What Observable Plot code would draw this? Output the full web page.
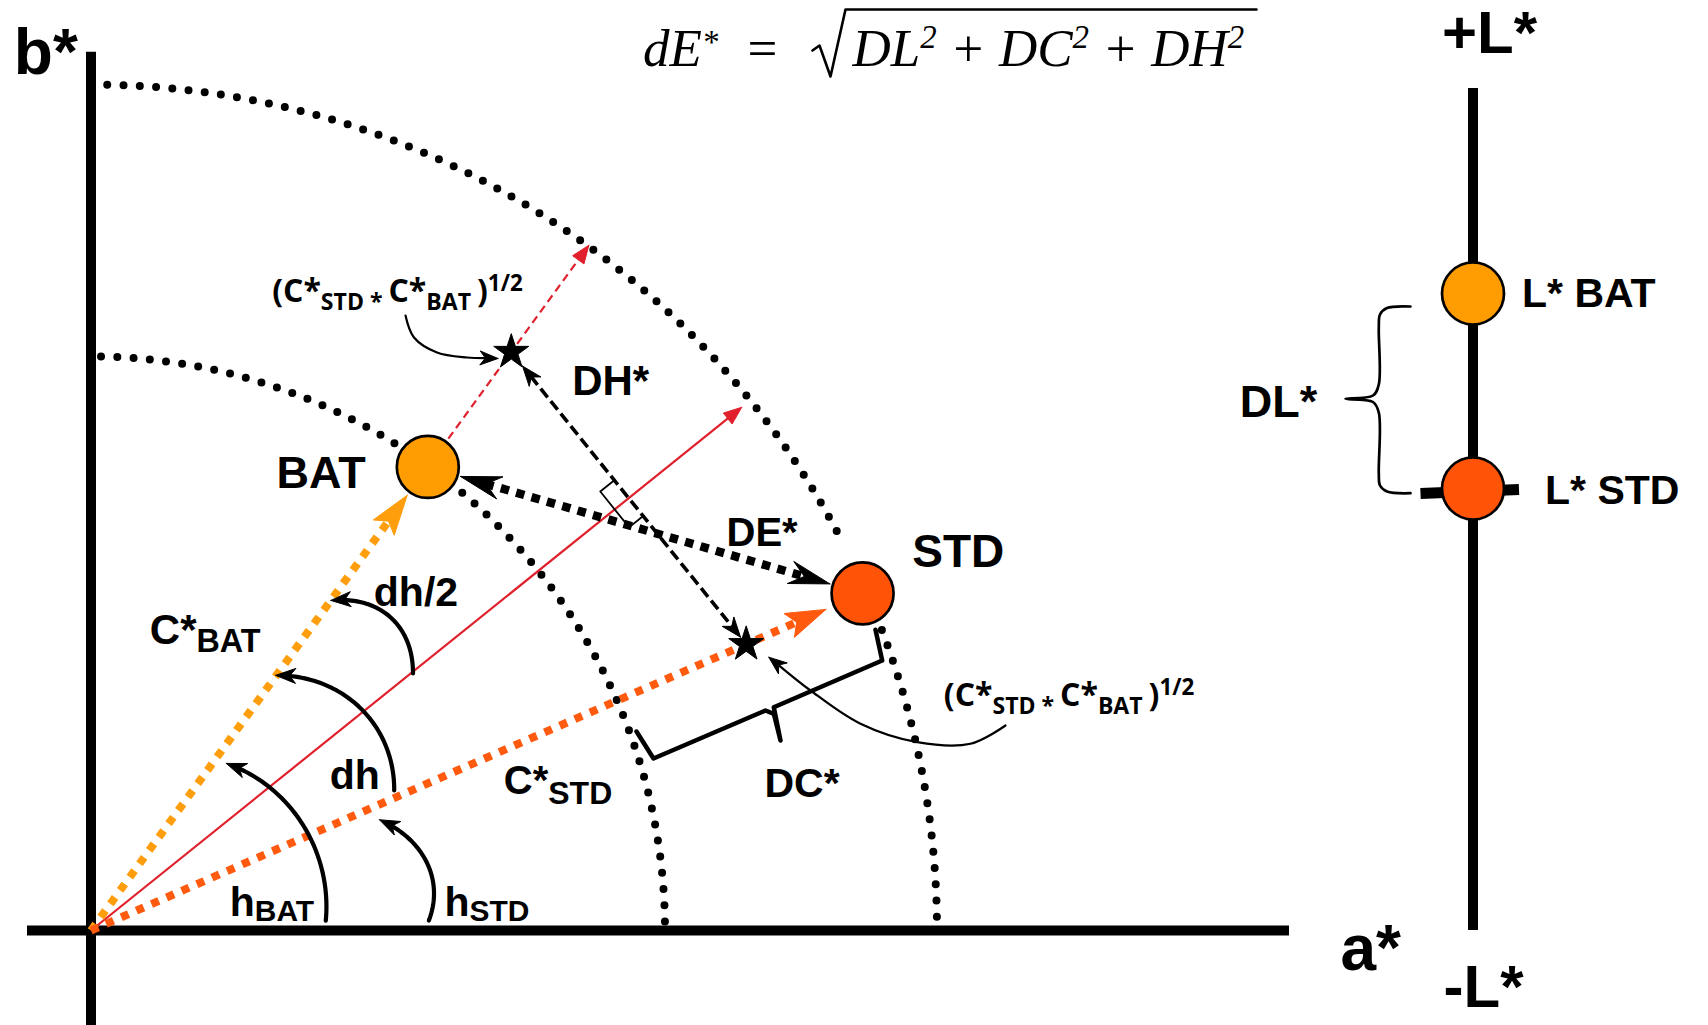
<!DOCTYPE html>
<html><head><meta charset="utf-8">
<script src="https://cdn.jsdelivr.net/npm/d3@7"></script>
<script src="https://cdn.jsdelivr.net/npm/@observablehq/plot@0.6"></script>
<style>html,body{margin:0;padding:0;background:#fff;} #chart svg{display:block}</style>
</head><body><div id="chart"></div>
<script>
// ================= DATA =================
const samples = ["BAT", "STD"];
const chroma = [57.3, 84.2];          // C*
const hue = [54.0, 23.6];             // h (degrees)
const lightness = [63.7, 44.2];       // position on the L* axis
const sampleColors = ["#FF9C00", "#FF5308"];
const vectorColors = ["#FF9E0D", "#FF5A0E"];
const vectorInsets = [3.5, 4.0];      // gap between chroma vector tip and sample dot
const chromaRings = [57.4, 84.6];     // dotted chroma circles
const ringArcs = [[[89.0, 57.3], [49.7, 0.7]], [[88.9, 27.3], [20.8, 0.7]]]; // angle spans
const geoMeanChroma = 71.5;           // (C*STD * C*BAT)^1/2 star radius
const bisectorLength = 83.5;
const batRayEnd = 84.7;
const lAxisU = 138.2;

// angle arrows: control points [angle, radius]
const angleArcs = [
  {id: "hBAT", ctrl: [[2.4, 23.5], [26, 23.7], [51, 21.5]]},
  {id: "hSTD", ctrl: [[1.7, 33.8], [11.2, 34.3], [21, 30.9]]},
  {id: "dh",   ctrl: [[24.8, 33.4], [38.3, 35.0], [54.1, 31.5]]},
  {id: "dh2",  ctrl: [[38.6, 41.2], [45, 43.3], [54.0, 40.8]]}
];
// curved pointer arrows (a*, b*)
const pointers = [
  {id: "p1", pts: [[31.45, 61.5], [32.3, 59.3], [34.6, 57.8], [37.6, 57.3], [40.7, 57.2]]},
  {id: "p2", pts: [[91.45, 20.5], [87.95, 18.67], [82.62, 18.83], [76.95, 20.67], [71.95, 24.0], [67.78, 27.33]]}
];
const dcBrace = [[54.55, 19.9], [56.25, 17.2], [67.45, 22.0], [68.28, 21.67], [68.95, 19.0], [68.28, 22.33], [79.12, 27.0], [78.45, 30.07]];
const dlBrace = [[131.95, 62.4], [129.6, 62.25], [128.9, 61.6], [128.78, 60.3], [128.78, 54.6], [128.2, 53.5], [125.45, 53.17], [128.2, 52.85], [128.78, 51.8], [128.78, 45.7], [128.9, 44.5], [129.6, 43.9], [131.95, 43.73]];
const radical = [[72.15, 88.0], [72.85, 88.5], [73.95, 85.4], [75.45, 92.1], [116.55, 92.1]];

const SANS = "Liberation Sans, Arial, sans-serif";
const CALI = "'Open Sans', Lato, sans-serif";
const SERIF = "Liberation Serif, 'DejaVu Serif', serif";
const labels = [
  {t: "b*", u: -7.72, v: 85.67, size: 64},
  {t: "a*", u: 124.95, v: -3.95, size: 64},
  {t: "+L*", u: 139.85, v: 87.8, size: 60, anchor: "middle"},
  {t: "-L*", u: 139.25, v: -7.65, size: 60, anchor: "middle"},
  {t: "L* BAT", u: 143.1, v: 62.33, size: 41},
  {t: "L* STD", u: 145.4, v: 42.67, size: 41},
  {t: "DL*", u: 114.88, v: 51.33, size: 45},
  {t: "BAT", u: 18.55, v: 44.27, size: 45},
  {t: "STD", u: 82.12, v: 36.33, size: 46},
  {t: "DH*", u: 48.12, v: 53.6, size: 42},
  {t: "DE*", u: 63.55, v: 38.5, size: 40},
  {t: "DC*", u: 67.35, v: 13.33, size: 41},
  {t: "dh/2", u: 28.28, v: 32.5, size: 41},
  {t: "dh", u: 23.88, v: 14.17, size: 41},
  {t: "C*_{BAT}", u: 5.88, v: 28.67, size: 42, sub: [0.77, 8]},
  {t: "C*_{STD}", u: 41.28, v: 13.67, size: 40, sub: [0.8, 10]},
  {t: "h_{BAT}", u: 13.88, v: 1.5, size: 41, sub: [0.73, 5]},
  {t: "h_{STD}", u: 35.35, v: 1.5, size: 41, sub: [0.73, 5]},
  {t: "(C*_{STD * }C*_{BAT })^{1/2}", u: 18.12, v: 62.83, size: 32, family: CALI, sub: [0.72, 8], sup: [0.7, 11]},
  {t: "(C*_{STD * }C*_{BAT })^{1/2}", u: 85.28, v: 22.5, size: 32, family: CALI, sub: [0.72, 8], sup: [0.7, 11]},
  {t: "dE^{*}", u: 55.19, v: 86.5, size: 53, family: SERIF, style: "italic", weight: "normal", sup: [0.62, 13]},
  {t: "=", u: 65.65, v: 86.5, size: 53, family: SERIF, weight: "normal"},
  {t: "DL^{2} + DC^{2} + DH^{2}", u: 76.15, v: 86.5, size: 53, family: SERIF, style: "italic", weight: "normal", sup: [0.62, 18]}
];

// ================= GEOMETRY HELPERS =================
const rad = d => d * Math.PI / 180;
const P = (r, a) => [r * Math.cos(rad(a)), r * Math.sin(rad(a))];
const sub2 = (a, b) => [a[0] - b[0], a[1] - b[1]];
const add = (a, b, s = 1) => [a[0] + s * b[0], a[1] + s * b[1]];
const norm = a => { const l = Math.hypot(a[0], a[1]); return [a[0] / l, a[1] / l]; };
const dist = (a, b) => Math.hypot(a[0] - b[0], a[1] - b[1]);

function head(id, tip, dir, L, W, notch) {
  const n = [-dir[1], dir[0]];
  const base = add(tip, dir, -L);
  return [tip, add(base, n, W), add(tip, dir, -notch * L), add(base, n, -W), tip].map(([u, v]) => ({u, v, id}));
}
function lagr(ctrl, a) {
  let r = 0;
  for (let i = 0; i < ctrl.length; i++) {
    let L = 1;
    for (let j = 0; j < ctrl.length; j++) if (j !== i) L *= (a - ctrl[j][0]) / (ctrl[i][0] - ctrl[j][0]);
    r += ctrl[i][1] * L;
  }
  return r;
}

const pts = samples.map((s, i) => {
  const [u, v] = P(chroma[i], hue[i]);
  return {name: s, u, v, color: sampleColors[i], L: lightness[i], lu: lAxisU};
});
const [hB, hS] = hue;
const hMid = (hB + hS) / 2;

// dotted chroma rings
const ringPts = [];
chromaRings.forEach((r, i) => ringArcs[i].forEach(([a0, a1], j) => {
  const n = Math.ceil(Math.abs(a0 - a1) / 0.5);
  for (let t = 0; t <= n; t++) { const [u, v] = P(r, a0 + (a1 - a0) * t / n); ringPts.push({u, v, z: `${i}-${j}`}); }
}));

const blackHeads = [], redHeads = [], vecHeads = [];
// chroma vectors
const vecLinks = samples.map((s, i) => {
  const tip = P(chroma[i] - vectorInsets[i], hue[i]);
  const dir = norm(tip);
  vecHeads.push({id: s, color: vectorColors[i], poly: head(s, tip, dir, 4.0, 1.3, 0.8)});
  const end = add(tip, dir, -3.0);
  return {u1: 0, v1: 0, u2: end[0], v2: end[1], color: vectorColors[i]};
});
// red bisector & BAT hue ray
const bisTip = P(bisectorLength, hMid);
redHeads.push(...head("bis", bisTip, norm(bisTip), 1.8, 0.7, 1.0));
const bisEnd = add(bisTip, norm(bisTip), -1.5);
const rayStart = P(chroma[0] + 3.5, hB), rayTip = P(batRayEnd, hB);
redHeads.push(...head("ray", rayTip, norm(rayTip), 1.8, 0.7, 1.0));
const rayEnd = add(rayTip, norm(rayTip), -1.5);

// stars
const stars = hue.map(h => { const [u, v] = P(geoMeanChroma, h); return {u, v}; });
// DH* arrow
const dDH = norm(sub2([stars[1].u, stars[1].v], [stars[0].u, stars[0].v]));
const dhA = add([stars[0].u, stars[0].v], dDH, 1.8), dhB = add([stars[1].u, stars[1].v], dDH, -0.9);
blackHeads.push(...head("dhA", dhA, [-dDH[0], -dDH[1]], 2.0, 0.75, 0.7));
blackHeads.push(...head("dhB", dhB, dDH, 2.0, 0.75, 0.7));
const dhLink = {a: add(dhA, dDH, 1.3), b: add(dhB, dDH, -1.3)};
// right-angle marker
const e = P(1, hMid), S1 = [stars[0].u, stars[0].v];
const det = -dDH[0] * e[1] + e[0] * dDH[1];
const s = (S1[0] * e[1] - e[0] * S1[1]) / det;
const I = add(S1, dDH, s);
const mB = add(I, dDH, -2.3), mD = add(I, dDH, 2.3);
const marker = [mB, add(mB, e, -1.8), add(mD, e, -1.8), mD].map(([u, v]) => ({u, v}));

// DE* arrow
const cB = [pts[0].u, pts[0].v], cS = [pts[1].u, pts[1].v];
const dDE = norm(sub2(cS, cB));
const deA = add(cB, dDE, 3.4), deB = add(cS, dDE, -3.4);
blackHeads.push(...head("deA", deA, [-dDE[0], -dDE[1]], 4.1, 1.15, 0.65));
blackHeads.push(...head("deB", deB, dDE, 4.1, 1.15, 0.65));
const deLink = {a: add(deA, dDE, 2.6), b: add(deB, dDE, -2.6)};

// angle arcs
const arcPts = [];
angleArcs.forEach(({id, ctrl}) => {
  const a0 = ctrl[0][0], a1 = ctrl[ctrl.length - 1][0];
  const samp = d3.range(61).map(t => { const a = a0 + (a1 - a0) * t / 60; return P(lagr(ctrl, a), a); });
  const tip = samp[60], dir = norm(sub2(tip, samp[57]));
  blackHeads.push(...head(id, tip, dir, 2.0, 0.75, 0.7));
  samp.filter(p => dist(p, tip) > 1.2).forEach(([u, v]) => arcPts.push({u, v, id}));
});
// pointer arrows
const ptrPts = [];
pointers.forEach(({id, pts: q}) => {
  const tip = q[q.length - 1], dir = norm(sub2(tip, q[q.length - 2]));
  blackHeads.push(...head(id, tip, dir, 1.8, 0.7, 0.7));
  const line = q.slice(0, -1).concat([add(tip, dir, -1.1)]);
  line.forEach(([u, v]) => ptrPts.push({u, v, id}));
});

const asObj = a => a.map(([u, v]) => ({u, v}));

// ================= PLOT =================
const textMarks = labels.map(l => Plot.text([l], {
  x: "u", y: "v", text: "t", textAnchor: l.anchor || "start", lineAnchor: "bottom",
  fontSize: l.size, fontWeight: l.weight || "bold", fontFamily: l.family || SANS,
  fontStyle: l.style || "normal", fill: "black"
}));

const plot = Plot.plot({
  width: 1708, height: 1025, margin: 0,
  x: {domain: [-9.05, 161.75], axis: null},
  y: {domain: [-9.5, 93.0], axis: null},
  color: {type: "identity"},
  style: {background: "#fff", fontFamily: SANS},
  marks: [
    // axes
    Plot.ruleX([0], {y1: -9.5, y2: 87.83, stroke: "black", strokeWidth: 10}),
    Plot.ruleY([0], {x1: -6.35, x2: 119.85, stroke: "black", strokeWidth: 10}),
    Plot.ruleX([lAxisU], {y1: 0, y2: 84.2, stroke: "black", strokeWidth: 10}),
    // chroma rings
    Plot.line(ringPts, {x: "u", y: "v", z: "z", stroke: "black", strokeWidth: 8, strokeDasharray: "0 16.3", strokeLinecap: "round"}),
    // red bisector and hue ray
    Plot.link([{u2: bisEnd[0], v2: bisEnd[1]}], {x1: () => 0, y1: () => 0, x2: "u2", y2: "v2", stroke: "#E0202C", strokeWidth: 2.2}),
    Plot.link([{u1: rayStart[0], v1: rayStart[1], u2: rayEnd[0], v2: rayEnd[1]}], {x1: "u1", y1: "v1", x2: "u2", y2: "v2", stroke: "#E0202C", strokeWidth: 2.2, strokeDasharray: "8 5"}),
    Plot.line(redHeads, {x: "u", y: "v", z: "id", fill: "#E0202C", stroke: "#E0202C", strokeWidth: 1}),
    // right-angle marker
    Plot.line(marker, {x: "u", y: "v", stroke: "black", strokeWidth: 1.8}),
    // chroma vectors
    Plot.link(vecLinks, {x1: "u1", y1: "v1", x2: "u2", y2: "v2", stroke: "color", strokeWidth: 8, strokeDasharray: "8 8.5"}),
    ...vecHeads.map(h => Plot.line(h.poly, {x: "u", y: "v", fill: h.color, stroke: h.color, strokeWidth: 1})),
    // DH*
    Plot.link([dhLink], {x1: d => d.a[0], y1: d => d.a[1], x2: d => d.b[0], y2: d => d.b[1], stroke: "black", strokeWidth: 3.6, strokeDasharray: "11 5"}),
    // DE*
    Plot.link([deLink], {x1: d => d.a[0], y1: d => d.a[1], x2: d => d.b[0], y2: d => d.b[1], stroke: "black", strokeWidth: 8.5, strokeDasharray: "8.5 7.5"}),
    // angle arcs & pointers
    Plot.line(arcPts, {x: "u", y: "v", z: "id", stroke: "black", strokeWidth: 4.2}),
    Plot.line(ptrPts, {x: "u", y: "v", z: "id", stroke: "black", strokeWidth: 2.2, curve: "catmull-rom"}),
    // braces
    Plot.line(asObj(dcBrace), {x: "u", y: "v", stroke: "black", strokeWidth: 4.5, strokeLinejoin: "round"}),
    Plot.line(asObj(dlBrace), {x: "u", y: "v", stroke: "black", strokeWidth: 2.7, curve: "catmull-rom"}),
    // L* STD tick
    Plot.link([pts[1]], {x1: d => d.lu - 5.25, y1: d => d.L - 0.5, x2: d => d.lu + 4.6, y2: d => d.L - 0.1, stroke: "black", strokeWidth: 11}),
    // sample dots
    Plot.dot(pts, {x: "u", y: "v", r: 31, fill: "color", stroke: "black", strokeWidth: 2.7}),
    Plot.dot(pts, {x: "lu", y: "L", r: 31, fill: "color", stroke: "black", strokeWidth: 2.7}),
    // stars
    Plot.dot(stars, {x: "u", y: "v", r: 11, symbol: "star", fill: "black", stroke: "black", strokeWidth: 1}),
    // arrow heads
    Plot.line(blackHeads, {x: "u", y: "v", z: "id", fill: "black", stroke: "black", strokeWidth: 1}),
    // radical sign of the formula
    Plot.line(asObj(radical), {x: "u", y: "v", stroke: "black", strokeWidth: 2.6}),
    ...textMarks
  ]
});

// rich text: _{sub} and ^{sup}
const specs = new Map(labels.map(l => [l.t, l]));
function rich(el, spec) {
  const str = el.textContent;
  if (!/[_^]\{/.test(str)) return;
  const parts = []; const re = /([_^])\{([^}]*)\}/g; let m, last = 0;
  while ((m = re.exec(str))) {
    if (m.index > last) parts.push({t: str.slice(last, m.index), k: ""});
    parts.push({t: m[2], k: m[1]}); last = re.lastIndex;
  }
  if (last < str.length) parts.push({t: str.slice(last), k: ""});
  el.textContent = "";
  el.style.whiteSpace = "pre";
  let cur = 0;
  for (const p of parts) {
    const ts = document.createElementNS("http://www.w3.org/2000/svg", "tspan");
    let target = 0, size = spec.size;
    if (p.k === "_") { target = spec.sub[1]; size = spec.size * spec.sub[0]; }
    if (p.k === "^") { target = -spec.sup[1]; size = spec.size * spec.sup[0]; }
    ts.setAttribute("font-size", size);
    if (target !== cur) ts.setAttribute("dy", target - cur);
    cur = target;
    ts.textContent = p.t;
    el.appendChild(ts);
  }
}
d3.select(plot).selectAll("text").each(function () {
  const spec = specs.get(this.textContent);
  if (spec) rich(this, spec);
});
document.getElementById("chart").appendChild(plot);
</script>
</body></html>
